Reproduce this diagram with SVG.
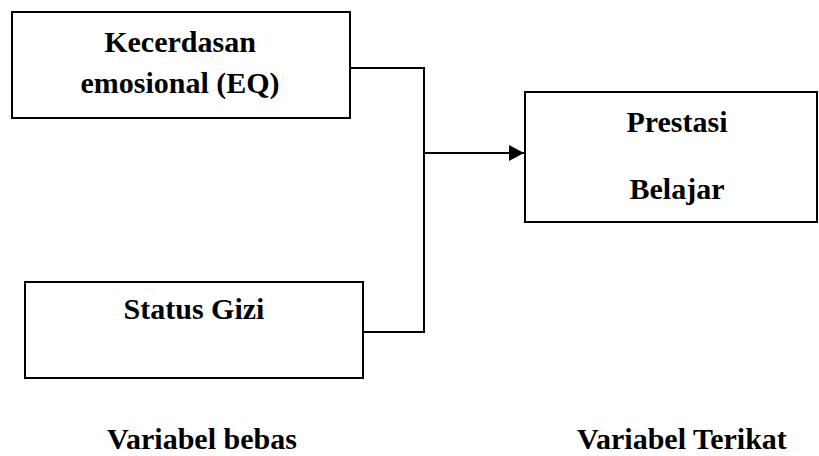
<svg xmlns="http://www.w3.org/2000/svg" width="819" height="456" viewBox="0 0 819 456">
<style>
.box{fill:#fff;stroke:#000;stroke-width:2}
.t{font-family:"Liberation Serif","Times New Roman",serif;font-weight:bold;font-size:30px;fill:#000;text-anchor:middle}
.c{fill:none;stroke:#000;stroke-width:2}
</style>
<defs>
<marker id="ah" markerWidth="15" markerHeight="16" refX="15" refY="8" orient="auto" markerUnits="userSpaceOnUse">
<path d="M0,0 L15,8 L0,16 Z" fill="#000"/>
</marker>
</defs>
<rect width="819" height="456" fill="#fff"/>
<g id="connectors">
<path class="c" d="M350,68 H424 V332 H363"/>
<path class="c" d="M424,153 H524" marker-end="url(#ah)"/>
</g>
<g id="node-eq">
<rect class="box" x="12" y="12" width="338" height="106"/>
<text class="t" x="180" y="52">Kecerdasan</text>
<text class="t" x="180" y="93">emosional (EQ)</text>
</g>
<g id="node-gizi">
<rect class="box" x="25" y="282" width="338" height="96"/>
<text class="t" x="194" y="319">Status Gizi</text>
</g>
<g id="node-prestasi">
<rect class="box" x="525" y="92" width="292" height="130"/>
<text class="t" x="677" y="132">Prestasi</text>
<text class="t" x="677" y="199">Belajar</text>
</g>
<g id="labels">
<text class="t" x="202" y="449">Variabel bebas</text>
<text class="t" x="682" y="449">Variabel Terikat</text>
</g>
</svg>
